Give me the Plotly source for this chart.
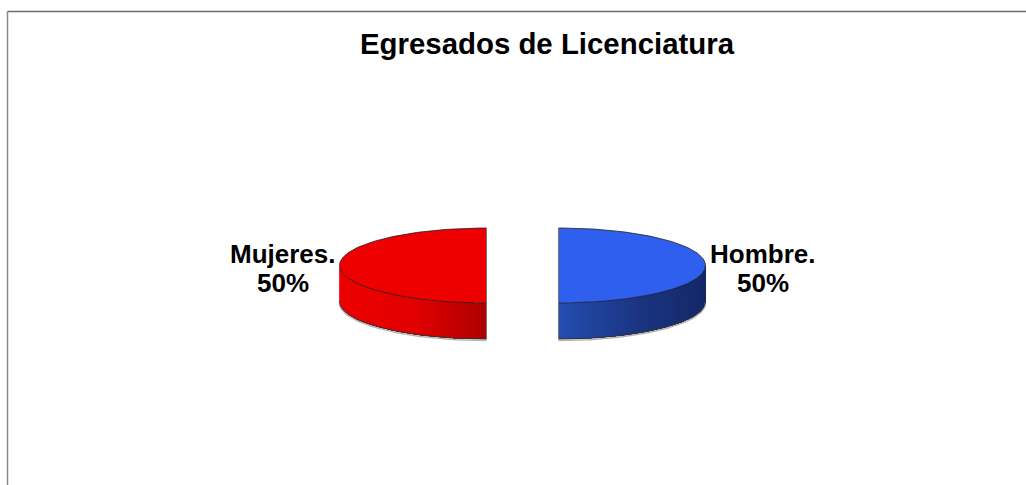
import numpy as np
import plotly.graph_objects as go

# data
categories = ["Hombre.", "Mujeres."]
shares = [50, 50]
pct_labels = ["50%", "50%"]
title_text = "Egresados de Licenciatura"

# look of each slice: top face colour, then side gradient from left to right
face_colors = ["#2F5FEE", "#EE0000"]
side_stops = [
    [(0.0, (37, 76, 175)), (0.55, (26, 52, 128)), (1.0, (20, 40, 104))],
    [(0.0, (236, 0, 0)), (0.5, (226, 0, 0)), (1.0, (172, 0, 0))],
]

# the fake 3d pie, 1 unit = one pie radius
W, H = 1026, 485
RADIUS_PX = 147
CENTER_X, CENTER_Y = 522.5, 265.5
TILT = 37.5 / RADIUS_PX
DEPTH = 36 / RADIUS_PX
EXPLODE = 36 / RADIUS_PX


def side_color(stops, t):
    r = np.interp(t, [s[0] for s in stops], [s[1][0] for s in stops])
    g = np.interp(t, [s[0] for s in stops], [s[1][1] for s in stops])
    b = np.interp(t, [s[0] for s in stops], [s[1][2] for s in stops])
    return f"rgb({r:.0f},{g:.0f},{b:.0f})"


fig = go.Figure()

# slices go clockwise from 12 o'clock
edges = np.cumsum([0] + shares) / sum(shares) * 2 * np.pi
for i in range(len(shares)):
    start, end = edges[i], edges[i + 1]
    mid = (start + end) / 2
    dx = np.sin(mid) * EXPLODE
    theta = np.linspace(start, end, 121)
    xs = dx + np.sin(theta)
    ys = np.cos(theta) * TILT

    # side wall, only the part on the front of the pie shows
    front = theta[(theta >= np.pi / 2) & (theta <= 3 * np.pi / 2)]
    fx = dx + np.sin(front)
    fy = np.cos(front) * TILT

    # gradient: paint from left to right, each strip runs on to the right end so no seams
    order = np.argsort(fx)
    gx, gy = fx[order], fy[order]
    for k in range(0, len(gx) - 1):
        col = side_color(side_stops[i], (gx[k] - gx[0]) / (gx[-1] - gx[0]))
        fig.add_trace(go.Scatter(
            x=np.r_[gx[k:], gx[k:][::-1], gx[k]],
            y=np.r_[gy[k:], gy[k:][::-1] - DEPTH, gy[k]],
            mode="none", fill="toself", fillcolor=col, hoverinfo="skip"))

    # grey smudge under the wall, then the dark bottom edge
    fig.add_trace(go.Scatter(x=fx, y=fy - DEPTH - 1.5 / RADIUS_PX, mode="lines",
                             line=dict(color="#b5b5b5", width=1.5), hoverinfo="skip"))
    fig.add_trace(go.Scatter(x=fx, y=fy - DEPTH, mode="lines",
                             line=dict(color="#333333", width=1), hoverinfo="skip"))

    # top face
    fig.add_trace(go.Scatter(
        x=np.r_[dx, xs, dx], y=np.r_[0, ys, 0],
        mode="lines", fill="toself", fillcolor=face_colors[i],
        line=dict(color="#222222", width=0.8), hoverinfo="skip"))

    # cut edge down the straight side
    fig.add_trace(go.Scatter(x=[dx, dx], y=[TILT, -TILT - DEPTH], mode="lines",
                             line=dict(color="#777777", width=1), hoverinfo="skip"))

    # labels sit just outside the slice, two annotations because the line gap is tight
    side = 1 if np.sin(mid) > 0 else -1
    for text, shift in [(categories[i], 11.5), (pct_labels[i], -17.5)]:
        fig.add_annotation(
            x=dx + np.sin(mid), y=0,
            text=f"<b>{text}</b>",
            showarrow=False, xanchor="center", yanchor="middle",
            xshift=side * 57, yshift=shift,
            font=dict(family="Liberation Sans", size=26, color="black"))

# the chart frame is cut off on the right and bottom
fig.add_shape(type="line", xref="paper", yref="paper",
              x0=7.5 / W, x1=1, y0=1 - 11.5 / H, y1=1 - 11.5 / H,
              line=dict(color="#6b6b6b", width=1.5))
fig.add_shape(type="line", xref="paper", yref="paper",
              x0=7.5 / W, x1=7.5 / W, y0=0, y1=1 - 11.5 / H,
              line=dict(color="#8a8a8a", width=1.5))

fig.update_layout(
    width=W, height=H,
    margin=dict(l=0, r=0, t=0, b=0),
    paper_bgcolor="white",
    plot_bgcolor="white",
    showlegend=False,
    title=dict(text=f"<b>{title_text}</b>", x=547 / W, xanchor="center",
               y=1 - 44 / H, yanchor="middle",
               font=dict(family="Liberation Sans", size=29.4, color="black")),
    xaxis=dict(visible=False, fixedrange=True,
               range=[-CENTER_X / RADIUS_PX, (W - CENTER_X) / RADIUS_PX]),
    yaxis=dict(visible=False, fixedrange=True,
               range=[-(H - CENTER_Y) / RADIUS_PX, CENTER_Y / RADIUS_PX]),
)

# the browser's default body margin would push the chart 8px in
fig.write_html("out.html", config=dict(displayModeBar=False),
               post_script="document.body.style.margin='0';window.dispatchEvent(new Event('resize'));")
